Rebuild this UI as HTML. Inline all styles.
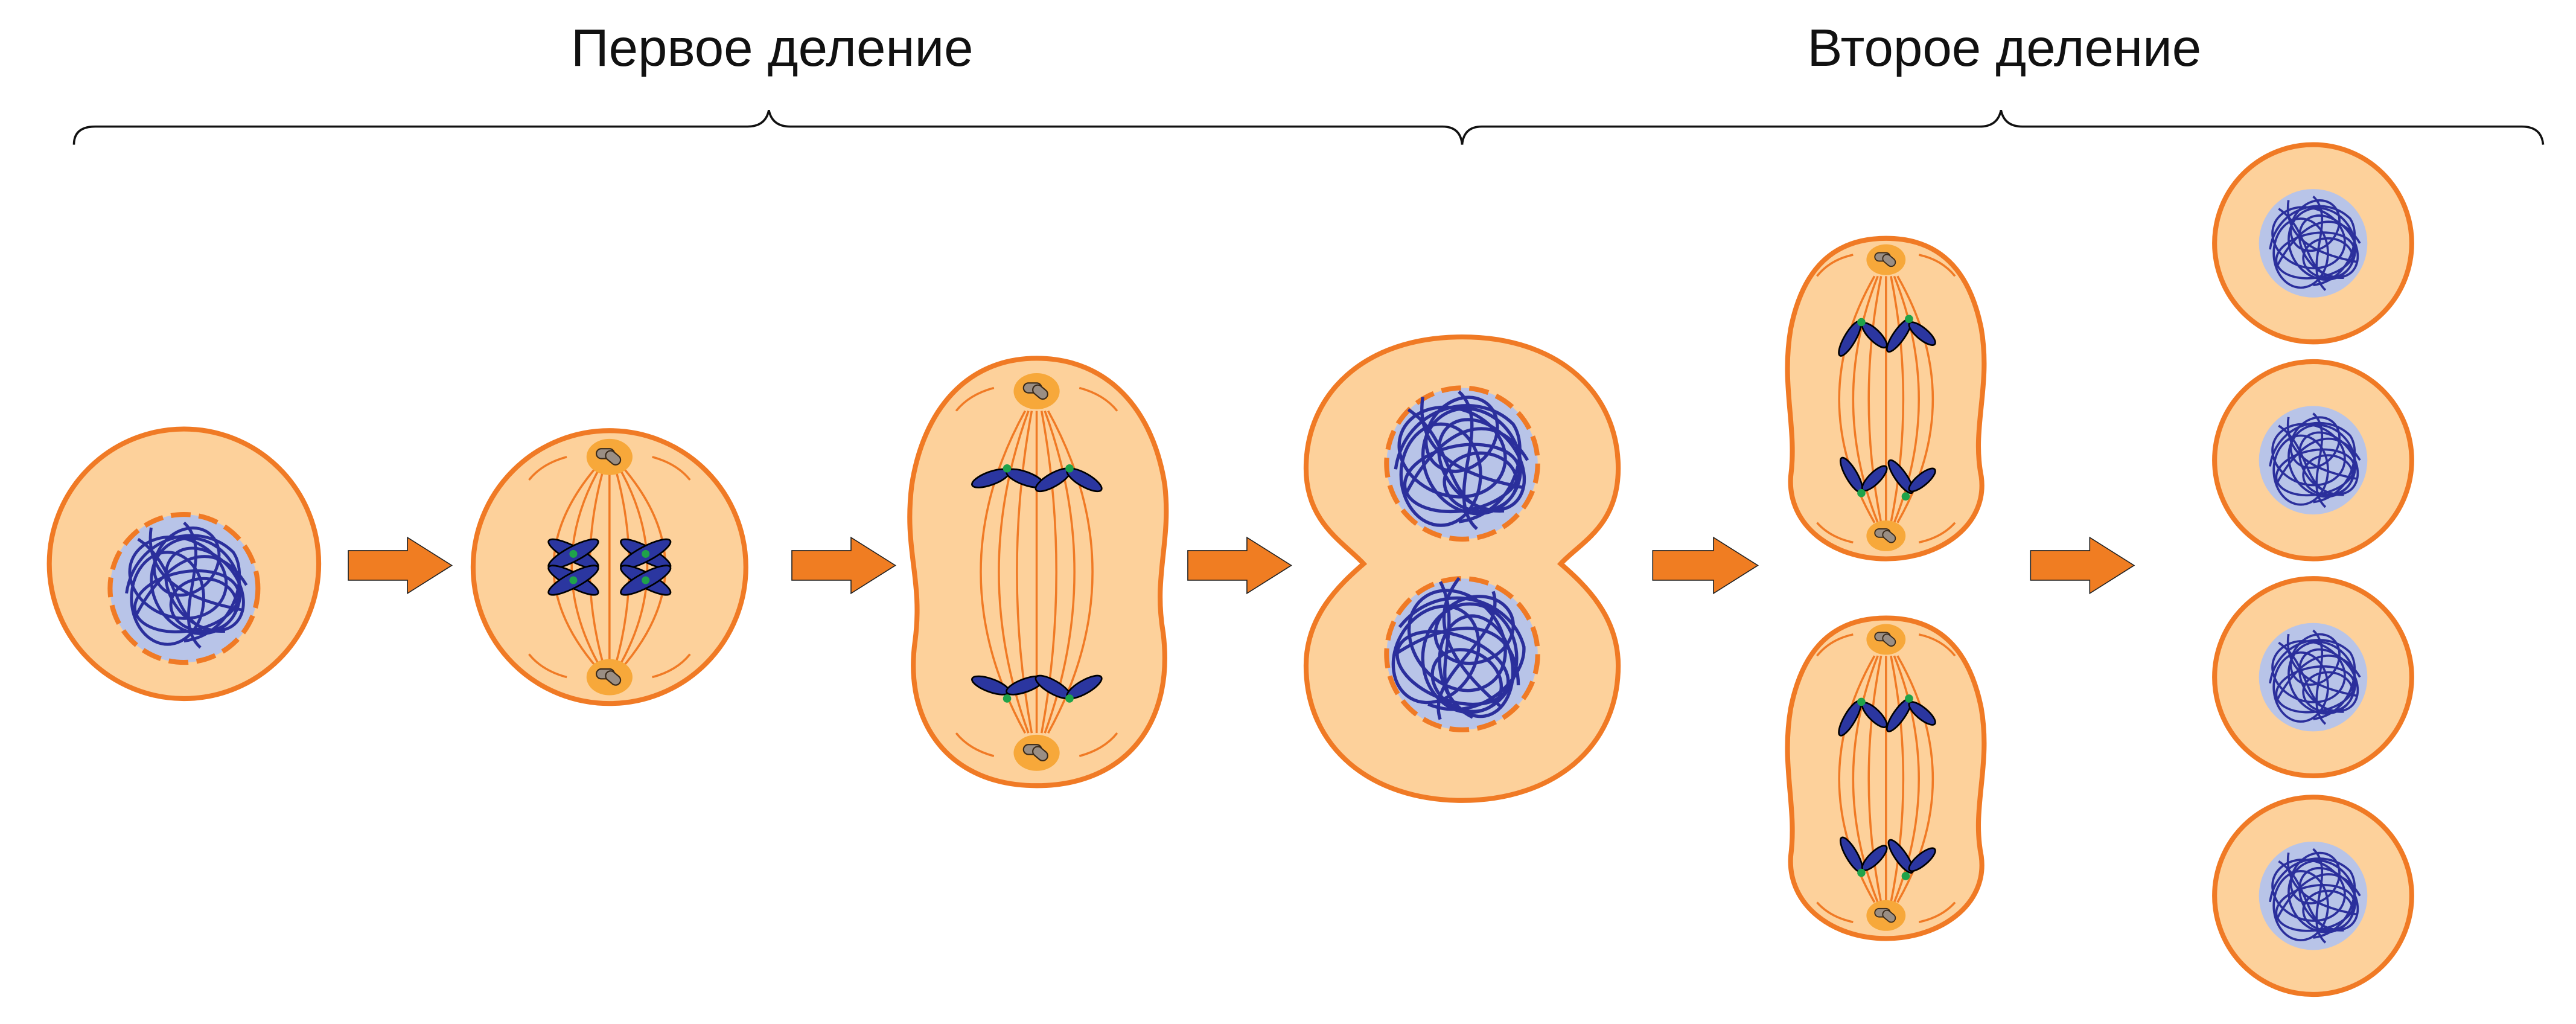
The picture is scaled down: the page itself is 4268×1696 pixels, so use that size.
<!DOCTYPE html>
<html><head><meta charset="utf-8"><style>
html,body{margin:0;padding:0;background:#fff;}
svg{display:block;}
</style></head><body>
<svg width="4268" height="1696" viewBox="0 0 1568 623" preserveAspectRatio="none" xmlns="http://www.w3.org/2000/svg">
<defs>
<g id="tangle" fill="none" stroke="#2b2f9c" stroke-width="1.8">
<ellipse cx="-5" cy="-3" rx="30" ry="24" transform="rotate(20)"/>
<ellipse cx="6" cy="4" rx="26" ry="30" transform="rotate(-30)"/>
<ellipse cx="-10" cy="8" rx="22" ry="28"/>
<ellipse cx="10" cy="-8" rx="28" ry="20" transform="rotate(50)"/>
<ellipse cx="0" cy="10" rx="32" ry="18" transform="rotate(-10)"/>
<ellipse cx="-8" cy="-12" rx="18" ry="22" transform="rotate(40)"/>
<ellipse cx="12" cy="12" rx="20" ry="16"/>
<path d="M-35,5 C-30,-30 10,-40 30,-20 C40,-5 30,30 0,34"/>
<path d="M-28,-28 C0,-10 -10,30 25,28"/>
<path d="M-30,20 C-10,-20 20,-30 38,0"/>
<path d="M-20,-35 C-25,0 10,10 35,15"/>
<path d="M0,-38 C20,-20 -10,20 10,38"/>
</g>
<g id="centro">
<ellipse cx="0" cy="0" rx="14" ry="11" fill="#f7a83a"/>
<rect x="-8" y="-5" width="11" height="6" rx="3" fill="#9a8e84" stroke="#3a2a1a" stroke-width="0.8"/>
<rect x="-2" y="-3" width="6" height="10" rx="3" fill="#9a8e84" stroke="#3a2a1a" stroke-width="0.8" transform="rotate(-50)"/>
</g>
</defs>

<text x="470" y="40" font-family="Liberation Sans, DejaVu Sans, sans-serif" font-size="32" text-anchor="middle" fill="#111">Первое деление</text>
<text x="1220" y="40" font-family="Liberation Sans, DejaVu Sans, sans-serif" font-size="32" text-anchor="middle" fill="#111">Второе деление</text>

<path d="M45,88 Q45,77 58,77 L455,77 Q466,77 468,67 Q470,77 481,77 L878,77 Q889,77 890,88" fill="none" stroke="#111" stroke-width="1.3"/>
<path d="M890,88 Q891,77 902,77 L1205,77 Q1216,77 1218,67 Q1220,77 1231,77 L1535,77 Q1547,77 1548,88" fill="none" stroke="#111" stroke-width="1.3"/>

<g fill="#f07d22" stroke="#222" stroke-width="0.6">
<path d="M212,335 L248,335 L248,327 L275,344 L248,361 L248,353 L212,353 Z"/>
<path d="M482,335 L518,335 L518,327 L545,344 L518,361 L518,353 L482,353 Z"/>
<path d="M723,335 L759,335 L759,327 L786,344 L759,361 L759,353 L723,353 Z"/>
<path d="M1006,335 L1043,335 L1043,327 L1070,344 L1043,361 L1043,353 L1006,353 Z"/>
<path d="M1236,335 L1272,335 L1272,327 L1299,344 L1272,361 L1272,353 L1236,353 Z"/>
</g>

<!-- cell 1 -->
<circle cx="112" cy="343" r="82" fill="#fdd19b" stroke="#f07a25" stroke-width="3"/>
<ellipse cx="112" cy="358" rx="45" ry="45" fill="#b8c4e8" stroke="#f07a25" stroke-width="3" stroke-dasharray="12 5"/>
<use href="#tangle" transform="translate(112,356)"/>

<!-- cell 2 -->
<circle cx="371" cy="345" r="83" fill="#fdd19b" stroke="#f07a25" stroke-width="3"/>
<g fill="none" stroke="#f07a25" stroke-width="1.3">
<path d="M371,283 L371,407"/>
<path d="M368,283 Q350,345 368,407"/><path d="M374,283 Q392,345 374,407"/>
<path d="M366,283 Q330,345 366,407"/><path d="M376,283 Q412,345 376,407"/>
<path d="M364,283 Q310,345 364,407"/><path d="M378,283 Q432,345 378,407"/>
<path d="M345,278 Q330,282 322,292"/><path d="M397,278 Q412,282 420,292"/>
<path d="M345,412 Q330,408 322,398"/><path d="M397,412 Q412,408 420,398"/>
</g>
<use href="#centro" transform="translate(371,278)"/>
<use href="#centro" transform="translate(371,412)"/>
<g fill="#2b36a0" stroke="#000" stroke-width="1">
<ellipse cx="349" cy="337" rx="17" ry="4.5" transform="rotate(28 349 337)"/><ellipse cx="349" cy="337" rx="17" ry="4.5" transform="rotate(-28 349 337)"/>
<ellipse cx="349" cy="353" rx="17" ry="4.5" transform="rotate(28 349 353)"/><ellipse cx="349" cy="353" rx="17" ry="4.5" transform="rotate(-28 349 353)"/>
<ellipse cx="393" cy="337" rx="17" ry="4.5" transform="rotate(28 393 337)"/><ellipse cx="393" cy="337" rx="17" ry="4.5" transform="rotate(-28 393 337)"/>
<ellipse cx="393" cy="353" rx="17" ry="4.5" transform="rotate(28 393 353)"/><ellipse cx="393" cy="353" rx="17" ry="4.5" transform="rotate(-28 393 353)"/>
</g>
<g fill="#1fa34a"><circle cx="349" cy="337" r="2.4"/><circle cx="349" cy="353" r="2.4"/><circle cx="393" cy="337" r="2.4"/><circle cx="393" cy="353" r="2.4"/></g>

<!-- cell 3 -->
<path d="M631,218 C675,218 702,250 709,295 C713,330 702,350 708,385 C715,440 685,478 631,478 C578,478 550,440 557,390 C562,352 550,335 555,295 C562,250 588,218 631,218 Z" fill="#fdd19b" stroke="#f07a25" stroke-width="3"/>
<g fill="none" stroke="#f07a25" stroke-width="1.3">
<path d="M631,250 L631,446"/>
<path d="M628,250 Q610,348 628,446"/><path d="M634,250 Q652,348 634,446"/>
<path d="M626,250 Q590,348 626,446"/><path d="M636,250 Q672,348 636,446"/>
<path d="M624,250 Q570,348 624,446"/><path d="M638,250 Q692,348 638,446"/>
<path d="M605,236 Q590,240 582,250"/><path d="M657,236 Q672,240 680,250"/>
<path d="M605,460 Q590,456 582,446"/><path d="M657,460 Q672,456 680,446"/>
</g>
<use href="#centro" transform="translate(631,238)"/>
<use href="#centro" transform="translate(631,458)"/>
<g fill="#2b36a0" stroke="#000" stroke-width="1">
<ellipse cx="603" cy="291" rx="12" ry="4" transform="rotate(-20 603 291)"/><ellipse cx="624" cy="291" rx="12" ry="4" transform="rotate(20 624 291)"/>
<ellipse cx="641" cy="292" rx="12" ry="4" transform="rotate(-30 641 292)"/><ellipse cx="660" cy="292" rx="12" ry="4" transform="rotate(30 660 292)"/>
<ellipse cx="603" cy="417" rx="12" ry="4" transform="rotate(20 603 417)"/><ellipse cx="624" cy="417" rx="12" ry="4" transform="rotate(-20 624 417)"/>
<ellipse cx="641" cy="418" rx="12" ry="4" transform="rotate(30 641 418)"/><ellipse cx="660" cy="418" rx="12" ry="4" transform="rotate(-30 660 418)"/>
</g>
<g fill="#1fa34a"><circle cx="613" cy="285" r="2.5"/><circle cx="651" cy="285" r="2.5"/><circle cx="613" cy="425" r="2.5"/><circle cx="651" cy="425" r="2.5"/></g>

<!-- cell 4 -->
<path d="M890,205 C950,205 985,240 985,285 C985,320 962,330 950,343 C965,356 985,375 985,405 C985,455 945,487 890,487 C835,487 795,455 795,405 C795,375 815,356 830,343 C818,330 795,318 795,285 C795,240 830,205 890,205 Z" fill="#fdd19b" stroke="#f07a25" stroke-width="3"/>
<circle cx="890" cy="282" r="46" fill="#b8c4e8" stroke="#f07a25" stroke-width="3" stroke-dasharray="12 5"/>
<circle cx="890" cy="398" r="46" fill="#b8c4e8" stroke="#f07a25" stroke-width="3" stroke-dasharray="12 5"/>
<use href="#tangle" transform="translate(888,280) scale(1.1)"/>
<use href="#tangle" transform="translate(888,396) scale(1.1) rotate(30)"/>

<!-- cell 5 (two) -->
<g id="c5">
<path d="M1148,145 C1185,145 1200,170 1206,200 C1212,235 1200,260 1206,290 C1210,320 1180,340 1148,340 C1116,340 1088,320 1090,290 C1094,260 1084,235 1090,200 C1096,170 1111,145 1148,145 Z" fill="#fdd19b" stroke="#f07a25" stroke-width="3"/>
<g fill="none" stroke="#f07a25" stroke-width="1.3">
<path d="M1148,168 L1148,318"/>
<path d="M1145,168 Q1130,243 1145,318"/><path d="M1151,168 Q1166,243 1151,318"/>
<path d="M1143,168 Q1113,243 1143,318"/><path d="M1153,168 Q1183,243 1153,318"/>
<path d="M1141,168 Q1098,243 1141,318"/><path d="M1155,168 Q1198,243 1155,318"/>
<path d="M1128,155 Q1114,158 1106,168"/><path d="M1168,155 Q1182,158 1190,168"/>
<path d="M1128,330 Q1114,327 1106,318"/><path d="M1168,330 Q1182,327 1190,318"/>
</g>
<use href="#centro" transform="translate(1148,158) scale(0.85)"/>
<use href="#centro" transform="translate(1148,326) scale(0.85)"/>
<g fill="#2b36a0" stroke="#000" stroke-width="1">
<ellipse cx="1126" cy="206" rx="12" ry="3.5" transform="rotate(-60 1126 206)"/><ellipse cx="1141" cy="204" rx="10" ry="3.5" transform="rotate(45 1141 204)"/>
<ellipse cx="1156" cy="204" rx="12" ry="3.5" transform="rotate(-55 1156 204)"/><ellipse cx="1170" cy="203" rx="10" ry="3.5" transform="rotate(40 1170 203)"/>
<ellipse cx="1127" cy="289" rx="12" ry="3.5" transform="rotate(60 1127 289)"/><ellipse cx="1141" cy="291" rx="10" ry="3.5" transform="rotate(-45 1141 291)"/>
<ellipse cx="1157" cy="290" rx="12" ry="3.5" transform="rotate(55 1157 290)"/><ellipse cx="1170" cy="292" rx="10" ry="3.5" transform="rotate(-40 1170 292)"/>
</g>
<g fill="#1fa34a"><circle cx="1133" cy="196" r="2.5"/><circle cx="1162" cy="194" r="2.5"/><circle cx="1133" cy="300" r="2.5"/><circle cx="1160" cy="302" r="2.5"/></g>
</g>
<use href="#c5" transform="translate(0,231)"/>

<!-- cell 6 x4 -->
<g id="c6">
<circle cx="1408" cy="148" r="60" fill="#fdd19b" stroke="#f07a25" stroke-width="3"/>
<circle cx="1408" cy="148" r="33" fill="#b8c4e8"/>
<use href="#tangle" transform="translate(1408,148) scale(0.75)"/>
</g>
<use href="#c6" transform="translate(0,132)"/>
<use href="#c6" transform="translate(0,264)"/>
<use href="#c6" transform="translate(0,397)"/>
</svg>
</body></html>
